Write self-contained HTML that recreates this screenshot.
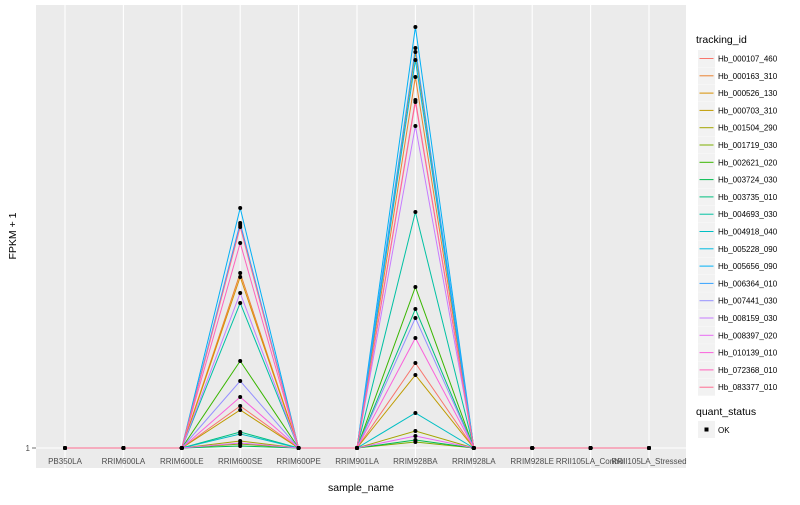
<!DOCTYPE html>
<html><head><meta charset="utf-8"><style>
body{margin:0;background:#fff;font-family:"Liberation Sans",sans-serif}
text{font-family:"Liberation Sans",sans-serif}
</style></head><body>
<svg id="chart" width="800" height="500">
<rect x="36" y="5" width="650" height="463" fill="#EBEBEB"/>
<g id="grid"></g><g id="lines"></g><g id="pts"></g><g id="xl"></g><g id="legend"></g>
<text x="16" y="236" font-size="10.5" transform="rotate(-90 16 236)" text-anchor="middle">FPKM + 1</text>
<text x="361" y="491" font-size="10.5" text-anchor="middle">sample_name</text>
<text x="30" y="451" font-size="8" fill="#4d4d4d" text-anchor="end">1</text>
<line x1="32" y1="448" x2="36" y2="448" stroke="#333" stroke-width="0.7"/>
<text x="696" y="43" font-size="10.5">tracking_id</text>
<text x="696" y="415" font-size="10.5">quant_status</text>
<rect x="698" y="421" width="17" height="17" fill="#F2F2F2"/>
<rect x="704.5" y="427.5" width="4" height="4" fill="#000"/>
<text x="718" y="433" font-size="8">OK</text>
</svg>
<script>
const categories=["PB350LA","RRIM600LA","RRIM600LE","RRIM600SE","RRIM600PE","RRIM901LA","RRIM928BA","RRIM928LA","RRIM928LE","RRII105LA_Control","RRII105LA_Stressed"];
const ids=["Hb_000107_460","Hb_000163_310","Hb_000526_130","Hb_000703_310","Hb_001504_290","Hb_001719_030","Hb_002621_020","Hb_003724_030","Hb_003735_010","Hb_004693_030","Hb_004918_040","Hb_005228_090","Hb_005656_090","Hb_006364_010","Hb_007441_030","Hb_008159_030","Hb_008397_020","Hb_010139_010","Hb_072368_010","Hb_083377_010"];
const colors=["#F8766D","#EA8331","#D89000","#C09B00","#A3A500","#7CAE00","#39B600","#00BB4E","#00BF7D","#00C1A3","#00BFC4","#00BAE0","#00B0F6","#35A2FF","#9590FF","#C77CFF","#E76BF3","#FA62DB","#FF62BC","#FF6C91"];
// value (FPKM+1, arbitrary linear units) at RRIM600SE and RRIM928BA; all others = 1
const seVals=[43,176,172,39,8,5,88,3,17,146,15,224,241,226,68,156,6,52,206,222];
const baVals=[86,372,397,74,18,7,162,9,140,237,36,389,422,401,131,323,13,111,347,349];
const yTicks=[1];
const ns="http://www.w3.org/2000/svg";
const X0=36,X1=686,Y0=448,K=1;
const xs=i=>65+(i)*(649-65)/(categories.length-1);
const ys=v=>Y0-(v-1)*K;
function mk(t,a,p){const e=document.createElementNS(ns,t);for(const k in a)e.setAttribute(k,a[k]);document.getElementById(p).appendChild(e);return e;}
categories.forEach((c,i)=>{
 const g=mk("line",{x1:xs(i),x2:xs(i),y1:5,y2:468,stroke:"#fff","stroke-width":1.1},"grid");
 
 
 const t=mk("text",{x:xs(i),y:464,"font-size":8,fill:"#4d4d4d","text-anchor":"middle"},"xl");
 t.textContent=c;
 
 
});
yTicks.forEach(v=>{
 const g=mk("line",{x1:X0,x2:X1,y1:ys(v),y2:ys(v),stroke:"#fff","stroke-width":1.1},"grid");
 
 
});
const seI=categories.indexOf("RRIM600SE"),baI=categories.indexOf("RRIM928BA");
ids.forEach((id,s)=>{
 const vals=categories.map((c,i)=>i===seI?seVals[s]:i===baI?baVals[s]:1);
 const l=mk("polyline",{points:vals.map((v,i)=>xs(i)+","+ys(v)).join(" "),fill:"none",stroke:colors[s],"stroke-width":1},"lines");
 
 
 vals.forEach((v,i)=>{
  const p=mk("circle",{cx:xs(i),cy:ys(v),r:2,fill:"#000"},"pts");
  
  
 });
 const y=50+s*17.3;
 const k=mk("rect",{x:698,y:y,width:17,height:17,fill:"#F2F2F2"},"legend");
 
 
 mk("line",{x1:699.5,x2:713.5,y1:y+8.5,y2:y+8.5,stroke:colors[s],"stroke-width":1},"legend");
 const t=mk("text",{x:718,y:y+11.5,"font-size":8},"legend");
 t.textContent=id;
 
 
});
</script>
</body></html>
